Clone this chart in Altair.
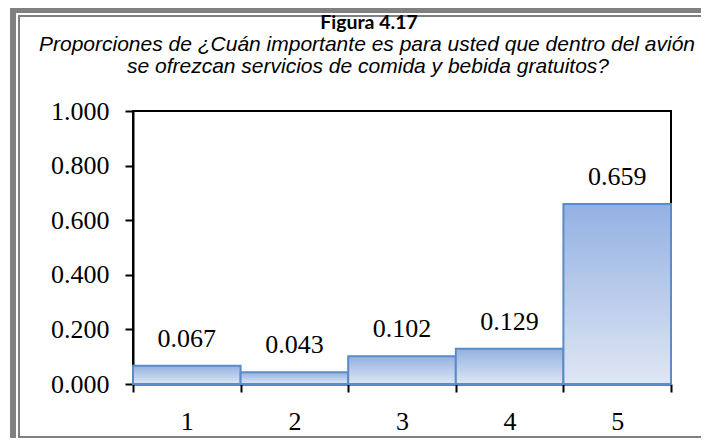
import altair as alt
import pandas as pd

categories = ["1", "2", "3", "4", "5"]
values = [0.067, 0.043, 0.102, 0.129, 0.659]
labels = ["0.067", "0.043", "0.102", "0.129", "0.659"]
y_ticks = [0.0, 0.2, 0.4, 0.6, 0.8, 1.0]

title_text = "Figura 4.17"
subtitle_line1 = "Proporciones de ¿Cuán importante es para usted que dentro del avión"
subtitle_line2 = "se ofrezcan servicios de comida y bebida gratuitos?"

df = pd.DataFrame({"cat": categories, "val": values, "lab": labels})

grad = alt.Gradient(
    gradient="linear", x1=0, y1=0, x2=0, y2=1,
    stops=[alt.GradientStop(color="#93B1E2", offset=0),
           alt.GradientStop(color="#DFE6F4", offset=1)],
)

SERIF = "Liberation Serif"

x_enc = alt.X(
    "cat:N",
    sort=categories,
    scale=alt.Scale(paddingInner=0, paddingOuter=0),
    axis=alt.Axis(title=None, labelAngle=0, tickBand="extent", labelPadding=16),
)
y_enc = alt.Y(
    "val:Q",
    scale=alt.Scale(domain=[0, 1], nice=False),
    axis=alt.Axis(title=None, values=y_ticks, format=".3f", grid=False, labelPadding=16),
)

bars = alt.Chart(df).mark_bar(color=grad, stroke="#5B8BC9", strokeWidth=2).encode(x=x_enc, y=y_enc)
texts = alt.Chart(df).mark_text(
    font=SERIF, fontSize=26, color="black", baseline="alphabetic", dy=-19
).encode(x=x_enc, y=y_enc, text="lab:N")

deco = alt.Data(values=[{}])
gray = "#808080"


def rect(x1, x2, y1, y2):
    return alt.Chart(deco).mark_rect(color=gray).encode(
        x=alt.value(x1), x2=alt.value(x2), y=alt.value(y1), y2=alt.value(y2)
    )


def label(txt, x, y, **kw):
    return alt.Chart(deco).mark_text(align="center", baseline="alphabetic", color="black", **kw).encode(
        x=alt.value(x), y=alt.value(y), text=alt.value(txt)
    )


frame = (
    rect(-123, 568, -103, -98)
    + rect(-123, -117, -103, 327)
    + rect(-115, 568, -96, -94)
    + rect(-115, -113, -96, 327)
    + rect(-115, 568, 325, 327)
)

titles = (
    label(title_text, 236, -82, font="Lato", fontSize=19.5, fontWeight="bold")
    + label(subtitle_line1, 234, -60, font="Liberation Sans", fontSize=21, fontStyle="italic")
    + label(subtitle_line2, 235, -38, font="Liberation Sans", fontSize=21, fontStyle="italic")
)

chart = alt.layer(frame, titles, bars, texts).properties(
    width=538,
    height=273,
    autosize=alt.AutoSizeParams(type="none"),
    padding={"left": 125, "top": 103, "right": 30, "bottom": 54},
    background="white",
).configure_view(stroke="black", strokeWidth=2).configure_axis(
    domainColor="black", domainWidth=2, tickColor="black", tickWidth=2, tickSize=8,
    labelFont=SERIF, labelFontSize=26, labelColor="black",
)

chart.save("out.html", embed_options={"renderer": "svg", "actions": False})
